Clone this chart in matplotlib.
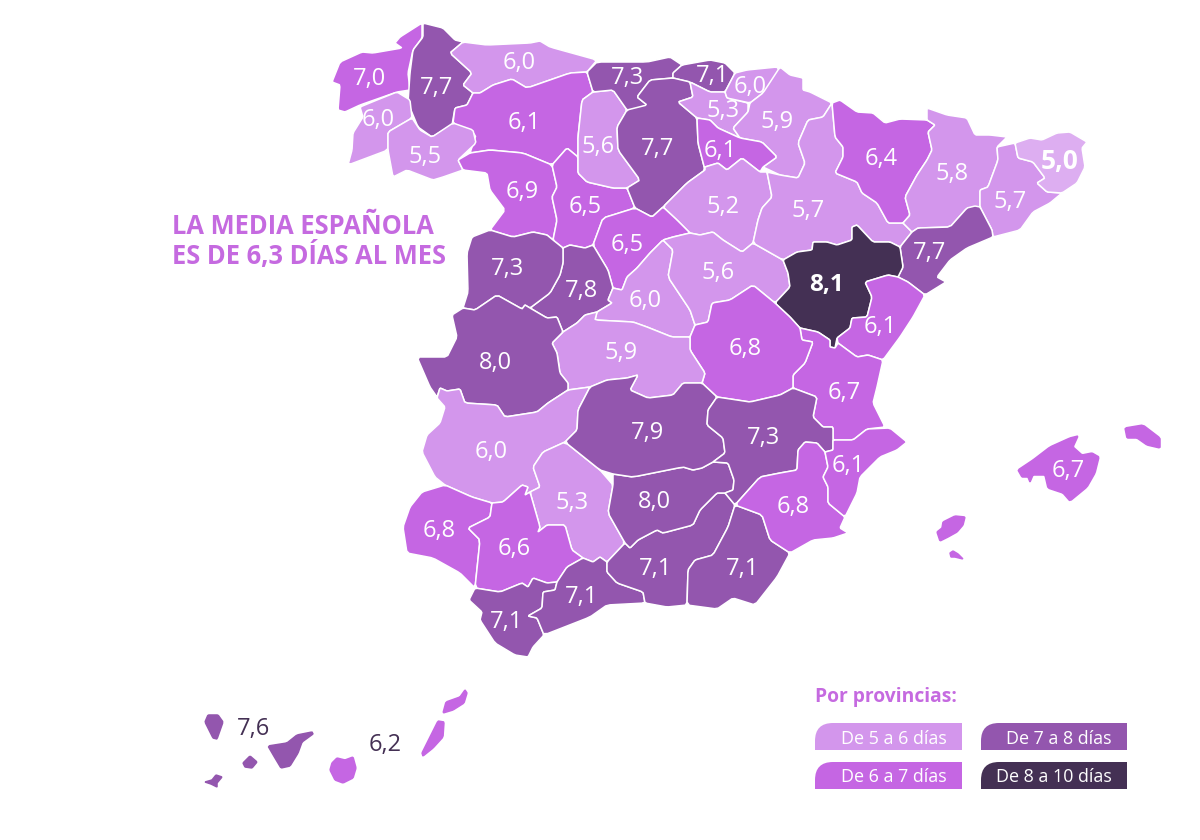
import matplotlib
matplotlib.use("Agg")
import matplotlib.pyplot as plt
from matplotlib.patches import Polygon, PathPatch
from matplotlib.path import Path

plt.rcParams['font.family'] = ['Open Sans', 'DejaVu Sans']

provinces = ["A Coruña", "Lugo", "Asturias", "León", "Pontevedra", "Ourense", "Zamora", "Valladolid", "Palencia",
	"Cantabria", "Vizcaya", "Burgos", "Álava", "Guipúzcoa", "Navarra", "La Rioja", "Soria", "Segovia", "Ávila",
	"Salamanca", "Madrid", "Guadalajara", "Zaragoza", "Huesca", "Lleida", "Barcelona", "Girona", "Tarragona",
	"Teruel", "Castellón", "Valencia", "Cuenca", "Toledo", "Cáceres", "Badajoz", "Córdoba", "Huelva", "Sevilla",
	"Cádiz", "Málaga", "Granada", "Almería", "Jaén", "Ciudad Real", "Albacete", "Murcia", "Alicante",
	"Baleares", "Santa Cruz", "Las Palmas"]
values = [7.0, 7.7, 6.0, 6.1, 6.0, 5.5, 6.9, 6.5, 5.6,
	7.3, 7.1, 7.7, 5.3, 6.0, 5.9, 6.1, 5.2, 6.5, 7.8,
	7.3, 6.0, 5.6, 5.7, 6.4, 5.8, 5.7, 5.0, 7.7,
	8.1, 6.1, 6.7, 6.8, 5.9, 8.0, 6.0, 5.3, 6.8, 6.6,
	7.1, 7.1, 7.1, 7.1, 8.0, 7.9, 7.3, 6.8, 6.1,
	6.7, 7.6, 6.2]

# label centres, same order as provinces
label_x = [369, 437, 519, 524, 378, 425, 522, 585, 598,
	627, 713, 658, 723, 750, 777, 720, 723, 627, 581,
	507, 645, 718, 808, 881, 952, 1010, 1060, 930,
	827, 880, 844, 745, 621, 495, 491, 572, 439, 514,
	507, 582, 656, 743, 654, 647, 763, 793, 848,
	1068, 254, 385]
label_y = [77, 86, 61, 121, 118, 155, 190, 205, 145,
	76, 74, 147, 109, 85, 120, 149, 205, 243, 289,
	267, 299, 271, 209, 157, 172, 200, 159, 251,
	283, 325, 391, 347, 351, 361, 450, 501, 529, 547,
	620, 595, 567, 567, 500, 431, 436, 505, 464,
	469, 727, 743]

legend_labels = ["De 5 a 6 días", "De 6 a 7 días", "De 7 a 8 días", "De 8 a 10 días"]
legend_title = "Por provincias:"
headline = ["LA MEDIA ESPAÑOLA", "ES DE 6,3 DÍAS AL MES"]

# map outlines, in image pixels
outlines = {
"A Coruña": [[(422,23),(400,37),(395,43),(402,48),(373,53),(362,52),(340,62),(332,82),(340,85),(338,110),(345,112),(360,105),(397,92),(410,90),(408,73),(413,50),(422,38)]],
"Lugo": [[(423,23),(443,28),(455,40),(463,42),(450,53),(472,73),(463,85),(473,93),(467,105),(455,108),(452,125),(432,137),(418,127),(408,103),(410,73),(413,50),(423,37)]],
"Asturias": [[(463,42),(487,45),(530,43),(540,41),(550,47),(597,60),(587,72),(570,73),(527,88),(512,79),(493,85),(480,93),(473,93),(463,85),(472,73),(450,53)]],
"León": [[(473,93),(480,93),(493,85),(512,79),(527,88),(570,73),(587,72),(593,92),(582,100),(578,137),(578,157),(567,148),(552,165),(523,153),(490,150),(470,153),(476,135),(453,123),(455,108),(467,105)]],
"Pontevedra": [[(397,92),(410,100),(412,118),(388,132),(388,150),(348,165),(352,150),(353,133),(363,117),(360,107),(377,100)]],
"Ourense": [[(412,118),(420,130),(432,137),(453,123),(473,130),(476,143),(458,160),(463,170),(443,177),(433,180),(407,170),(393,177),(388,150),(388,132)]],
"Zamora": [[(458,160),(470,153),(490,150),(523,153),(552,165),(557,187),(552,197),(557,220),(553,240),(547,235),(533,232),(513,237),(490,230),(505,210),(490,190),(487,173),(463,170)]],
"Valladolid": [[(567,148),(578,157),(578,173),(587,182),(613,188),(627,188),(635,208),(603,218),(593,245),(585,248),(570,245),(563,248),(553,240),(557,220),(552,197),(557,187),(552,165)]],
"Palencia": [[(593,92),(613,90),(627,110),(617,127),(618,150),(640,180),(627,188),(613,188),(587,182),(578,173),(578,157),(578,137),(582,100)]],
"Cantabria": [[(597,62),(647,62),(670,57),(682,65),(673,73),(673,78),(650,80),(637,97),(647,105),(633,110),(627,110),(613,90),(593,92),(587,72)]],
"Vizcaya": [[(673,73),(682,65),(710,60),(725,63),(735,73),(725,92),(710,92),(690,82),(673,78)]],
"Burgos": [[(650,80),(673,78),(690,82),(693,97),(678,102),(697,118),(698,143),(705,170),(687,183),(663,207),(652,217),(635,208),(627,188),(640,180),(618,150),(617,127),(627,110),(647,105),(637,97)]],
"Álava": [[(690,82),(710,92),(725,92),(727,98),(748,103),(748,112),(733,128),(740,138),(718,128),(710,120),(697,118),(678,102),(693,97)]],
"Guipúzcoa": [[(735,73),(747,70),(777,67),(780,72),(763,93),(750,103),(727,98),(725,92)]],
"Navarra": [[(780,67),(790,75),(803,78),(803,90),(810,92),(832,103),(823,117),(808,120),(798,143),(805,163),(798,178),(780,175),(763,167),(777,157),(762,142),(740,138),(733,128),(748,112),(750,103),(763,93)]],
"La Rioja": [[(697,118),(710,120),(718,128),(740,138),(762,142),(777,157),(763,167),(760,172),(742,158),(727,170),(718,163),(705,167),(705,170),(698,143)]],
"Soria": [[(705,170),(705,167),(718,163),(727,170),(742,158),(760,172),(767,172),(772,197),(762,208),(758,220),(753,243),(742,252),(723,240),(713,232),(700,235),(690,233),(677,220),(663,207),(687,183)]],
"Segovia": [[(603,218),(635,208),(652,217),(663,207),(677,220),(690,233),(673,237),(663,240),(650,253),(637,268),(627,277),(622,290),(613,288),(608,270),(593,245)]],
"Ávila": [[(563,248),(570,245),(585,248),(593,245),(608,270),(613,288),(608,300),(612,303),(597,312),(585,315),(577,323),(563,332),(557,317),(547,318),(530,308),(550,293),(560,275),(563,263)]],
"Salamanca": [[(490,230),(513,237),(533,232),(547,235),(553,240),(563,248),(563,263),(560,275),(550,293),(530,308),(525,305),(522,309),(497,295),(475,310),(463,308),(468,292),(467,253),(472,237)]],
"Madrid": [[(663,240),(673,250),(668,277),(690,310),(695,325),(690,337),(672,337),(647,327),(633,322),(595,320),(597,312),(612,303),(608,300),(613,288),(622,290),(627,277),(637,268),(650,253)]],
"Guadalajara": [[(673,237),(690,233),(700,235),(713,232),(723,240),(742,252),(753,243),(783,260),(788,273),(790,287),(775,303),(753,285),(730,300),(712,303),(708,322),(695,325),(690,310),(668,277),(673,250),(663,240)]],
"Zaragoza": [[(767,172),(780,175),(798,178),(805,163),(798,143),(808,120),(823,117),(832,103),(835,137),(843,147),(843,157),(835,173),(857,182),(862,193),(877,203),(888,223),(903,223),(912,232),(900,247),(890,242),(873,242),(857,225),(852,227),(852,240),(837,245),(827,242),(813,242),(812,250),(797,252),(783,260),(753,243),(758,220),(762,208),(772,197)]],
"Huesca": [[(832,103),(840,100),(857,112),(873,113),(885,123),(900,119),(927,120),(935,125),(928,132),(932,150),(927,160),(917,175),(905,197),(910,215),(903,223),(888,223),(877,203),(862,193),(857,182),(835,173),(843,157),(843,147),(835,137)]],
"Lleida": [[(927,108),(947,115),(967,118),(975,135),(990,135),(1007,137),(997,147),(998,160),(988,187),(980,190),(980,207),(967,208),(950,227),(918,228),(912,232),(903,223),(910,215),(905,197),(917,175),(927,160),(932,150),(928,132),(935,125),(927,120)]],
"Barcelona": [[(997,147),(1015,143),(1018,158),(1033,162),(1045,178),(1037,183),(1047,192),(1062,193),(1050,203),(1033,212),(1020,230),(993,237),(992,230),(980,207),(980,190),(988,187),(998,160)]],
"Girona": [[(1015,143),(1030,138),(1042,140),(1057,133),(1070,132),(1087,142),(1082,148),(1085,167),(1077,183),(1062,193),(1047,192),(1037,183),(1045,178),(1033,162),(1018,158)]],
"Tarragona": [[(967,208),(975,206),(980,207),(992,230),(993,237),(967,248),(950,260),(937,277),(946,282),(925,295),(908,282),(898,277),(903,267),(900,247),(912,232),(918,228),(950,227)]],
"Teruel": [[(852,227),(857,225),(873,242),(890,242),(900,247),(903,267),(898,277),(888,275),(865,282),(872,297),(867,317),(852,318),(850,328),(837,338),(835,348),(830,347),(830,340),(818,332),(800,328),(790,317),(775,303),(790,287),(788,273),(783,260),(797,252),(812,250),(813,242),(827,242),(837,245),(852,240)]],
"Castellón": [[(865,282),(888,275),(898,277),(908,282),(925,295),(913,317),(900,337),(883,360),(868,355),(857,357),(838,343),(837,338),(850,328),(852,318),(867,317),(872,297)]],
"Valencia": [[(800,328),(818,332),(830,340),(830,347),(835,348),(838,343),(857,357),(868,355),(883,360),(877,387),(873,403),(885,427),(867,429),(853,440),(833,440),(833,427),(823,427),(813,417),(817,397),(793,388),(793,375),(805,363),(813,342),(802,340)]],
"Cuenca": [[(712,303),(730,300),(753,285),(775,303),(790,317),(800,328),(802,340),(813,342),(805,363),(793,375),(793,388),(780,395),(750,402),(737,400),(717,397),(702,383),(705,373),(690,350),(690,337),(695,325),(708,322)]],
"Toledo": [[(595,320),(633,322),(647,327),(672,337),(690,337),(690,350),(705,373),(702,383),(683,383),(673,395),(648,398),(630,390),(638,375),(627,378),(607,380),(590,387),(568,390),(568,383),(560,373),(557,353),(552,343),(563,332),(577,323),(585,315),(597,312)]],
"Cáceres": [[(497,295),(522,309),(525,305),(530,308),(547,318),(557,317),(563,332),(552,343),(557,353),(560,373),(568,383),(568,390),(548,403),(537,412),(505,417),(497,405),(465,403),(460,389),(447,391),(440,388),(437,397),(430,387),(417,357),(447,357),(457,337),(452,315),(463,308),(475,310)]],
"Badajoz": [[(437,398),(440,388),(447,391),(460,389),(465,403),(497,405),(505,417),(537,412),(548,403),(568,390),(590,387),(578,410),(577,430),(565,442),(543,452),(533,467),(540,487),(530,492),(525,495),(528,487),(522,485),(503,502),(492,503),(472,497),(445,485),(435,477),(422,452),(427,435),(440,423),(445,407)]],
"Córdoba": [[(565,442),(600,470),(613,485),(608,513),(625,543),(607,562),(600,557),(593,562),(583,558),(572,550),(565,525),(547,525),(538,532),(540,527),(530,492),(540,487),(533,467),(543,452)]],
"Huelva": [[(422,492),(445,485),(472,497),(492,503),(490,517),(468,528),(480,540),(475,588),(460,573),(433,558),(407,553),(403,527),(410,507)]],
"Sevilla": [[(492,503),(503,502),(522,485),(528,487),(525,495),(530,492),(540,527),(538,532),(547,525),(565,525),(572,550),(583,558),(567,567),(557,582),(547,583),(533,578),(528,587),(522,583),(500,592),(475,588),(480,540),(468,528),(490,517)]],
"Cádiz": [[(475,588),(500,592),(522,583),(528,587),(533,578),(547,583),(557,582),(555,590),(543,592),(542,608),(528,616),(537,618),(544,635),(533,647),(528,657),(515,655),(495,643),(480,620),(482,612),(469,600)]],
"Málaga": [[(567,567),(583,558),(593,562),(600,557),(607,562),(607,572),(617,583),(643,592),(645,603),(607,605),(590,617),(544,635),(537,618),(528,616),(542,608),(543,592),(555,590),(557,582)]],
"Granada": [[(625,543),(630,548),(638,540),(657,530),(663,533),(693,525),(700,510),(717,493),(725,493),(735,505),(728,527),(713,555),(695,560),(688,570),(687,605),(667,607),(645,603),(643,592),(617,583),(607,572),(607,562)]],
"Almería": [[(735,505),(762,515),(770,540),(790,553),(777,577),(755,605),(733,598),(717,609),(687,605),(688,570),(695,560),(713,555),(728,527)]],
"Jaén": [[(613,485),(613,474),(633,477),(683,467),(693,470),(702,468),(713,462),(728,463),(734,480),(733,490),(725,493),(717,493),(700,510),(693,525),(663,533),(657,530),(638,540),(630,548),(625,543),(608,513)]],
"Ciudad Real": [[(565,442),(577,430),(578,410),(590,387),(607,380),(627,378),(638,375),(630,390),(648,398),(673,395),(683,383),(702,383),(717,397),(708,410),(707,425),(723,438),(725,453),(713,462),(702,468),(693,470),(683,467),(633,477),(613,474),(600,470)]],
"Albacete": [[(717,397),(737,400),(750,402),(780,395),(793,388),(817,397),(813,417),(823,427),(833,427),(833,450),(825,452),(817,443),(805,442),(798,450),(797,470),(780,473),(760,477),(735,505),(725,493),(733,490),(734,480),(728,463),(713,462),(725,453),(723,438),(707,425),(708,410)]],
"Murcia": [[(805,442),(817,443),(825,452),(828,467),(823,477),(828,487),(828,503),(845,517),(840,528),(848,533),(833,538),(813,540),(790,553),(770,540),(762,515),(735,505),(760,477),(780,473),(797,470),(798,450)]],
"Alicante": [[(833,440),(853,440),(867,429),(890,428),(907,442),(897,450),(880,457),(860,477),(857,493),(845,517),(828,503),(828,487),(823,477),(828,467),(825,452),(833,450)]],
"Baleares": [
	[(1078,436),(1070,438),(1050,447),(1033,460),(1018,470),(1022,477),(1028,477),(1030,482),(1033,475),(1045,475),(1048,488),(1063,493),(1070,501),(1087,487),(1095,473),(1099,457),(1092,453),(1082,455),(1073,447)],
	[(1125,428),(1143,425),(1160,438),(1160,448),(1147,445),(1137,438),(1127,438)],
	[(965,517),(955,516),(943,522),(942,528),(937,532),(940,541),(948,537),(957,532),(963,525)],
	[(950,553),(953,551),(958,554),(963,559),(955,557),(951,557)]],
"Santa Cruz": [
	[(208,715),(218,715),(223,722),(217,739),(213,738),(205,722)],
	[(250,756),(257,762),(252,768),(245,767),(243,763)],
	[(205,782),(212,780),(216,775),(222,777),(217,783),(217,787),(211,784)],
	[(268,746),(287,743),(297,735),(312,732),(313,734),(302,742),(298,753),(290,766),(281,768),(275,758)]],
"Las Palmas": [
	[(337,758),(345,760),(353,757),(356,768),(353,778),(343,783),(335,780),(330,770),(332,763)],
	[(438,721),(444,722),(443,737),(433,748),(423,756),(422,753),(430,737)],
	[(465,690),(467,693),(464,703),(453,710),(443,713),(446,702),(460,697)]],
}
islands = ("Baleares", "Santa Cruz", "Las Palmas")

LIGHT = '#d396ec'
MID = '#c566e3'
DARK = '#9356ae'
DARKEST = '#443054'
LIGHTEST = '#ddaef1'
HEAD = '#c56ae0'


def bin_color(v):
	if v <= 5.0:
		return LIGHTEST
	if v <= 6.0:
		return LIGHT
	if v <= 7.0:
		return MID
	if v <= 8.0:
		return DARK
	return DARKEST


def soften(ring, t=0.08):
	# cut the corners a little, the traced outlines look too straight otherwise
	out = []
	for i in range(len(ring)):
		x0, y0 = ring[i]
		x1, y1 = ring[(i+1) % len(ring)]
		out.append((x0+(x1-x0)*t, y0+(y1-y0)*t))
		out.append((x1-(x1-x0)*t, y1-(y1-y0)*t))
	return out


def legend_box(ax, x, y, w, h, color, text, r=18):
	# only the top left corner is rounded
	verts = [(x, y+h), (x, y+r), (x, y), (x+r, y), (x+w, y), (x+w, y+h), (x, y+h)]
	codes = [Path.MOVETO, Path.LINETO, Path.CURVE3, Path.CURVE3, Path.LINETO, Path.LINETO, Path.CLOSEPOLY]
	ax.add_patch(PathPatch(Path(verts, codes), facecolor=color, edgecolor='none'))
	ax.text(x+w-15, y+h/2+2, text, ha='right', va='center', color='white', fontsize=12.9)


fig = plt.figure(figsize=(12, 8.4), dpi=100)
ax = fig.add_axes([0, 0, 1, 1])
ax.set_xlim(0, 1200)
ax.set_ylim(840, 0)
ax.axis('off')

for name, v in zip(provinces, values):
	color = bin_color(v)
	for ring in outlines[name]:
		edge = color if name in islands else 'white'
		ax.add_patch(Polygon(soften(ring), closed=True, facecolor=color, edgecolor=edge, linewidth=1.1, joinstyle='round'))

for name, v, x, y in zip(provinces, values, label_x, label_y):
	txt = f"{v:.1f}".replace('.', ',')
	color = DARKEST if name in ("Santa Cruz", "Las Palmas") else 'white'
	if v == 5.0:
		ax.text(x, y+2, txt, ha='center', va='center', color=color, fontsize=19, fontweight='bold')
	elif v == 8.1:
		ax.text(x, y+2, txt, ha='center', va='center', color=color, fontsize=17.5, fontweight='bold')
	else:
		ax.text(x, y+2, txt, ha='center', va='center', color=color, fontsize=17)

ax.text(172, 226, headline[0], ha='left', va='center', color=HEAD, fontsize=18.4, fontweight='bold')
ax.text(172, 256, headline[1], ha='left', va='center', color=HEAD, fontsize=18.4, fontweight='bold')

ax.text(815, 697, legend_title, ha='left', va='center', color=HEAD, fontsize=13.9, fontweight='bold')
legend_box(ax, 815, 723, 147, 27, LIGHT, legend_labels[0])
legend_box(ax, 815, 762, 147, 27, MID, legend_labels[1])
legend_box(ax, 981, 723, 146, 27, DARK, legend_labels[2])
legend_box(ax, 981, 762, 146, 27, DARKEST, legend_labels[3])

fig.savefig('out.png', dpi=100)
